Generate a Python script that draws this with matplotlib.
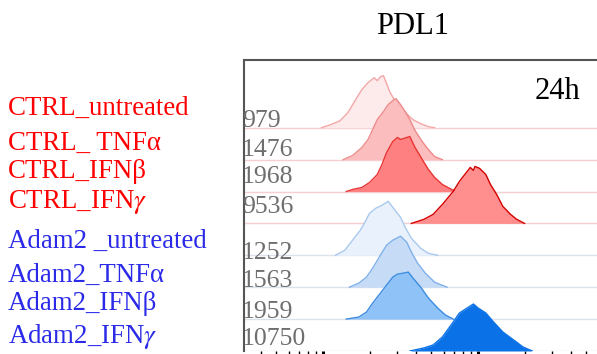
import numpy as np
import matplotlib
matplotlib.use("Agg")
import matplotlib.pyplot as plt

plt.rcParams["font.family"] = ["Liberation Serif", "DejaVu Serif"]
plt.rcParams["mathtext.fontset"] = "stix"

# ---- data -------------------------------------------------------------
samples = [
    "CTRL_untreated", "CTRL_ TNF\u03b1", "CTRL_IFN\u03b2", r"CTRL_IFN$\gamma$",
    "Adam2 _untreated", "Adam2_TNF\u03b1", "Adam2_IFN\u03b2", r"Adam2_IFN$\gamma$",
]
mfi = ["979", "1476", "1968", "9536", "1252", "1563", "1959", "10750"]

# log10 PDL1 intensity / histogram counts for each sample
ctrl_untreated_x = [2.99, 3.05, 3.11, 3.16, 3.21, 3.25, 3.29, 3.33, 3.35, 3.37, 3.39, 3.40, 3.43, 3.46, 3.50, 3.54, 3.58, 3.63, 3.68, 3.72]
ctrl_untreated_y = [0, 3, 7, 15, 28, 38, 45, 50, 47, 51, 52, 48, 36, 28, 20, 14, 8, 4, 1, 0]
ctrl_tnfa_x = [3.13, 3.19, 3.25, 3.29, 3.32, 3.35, 3.39, 3.42, 3.45, 3.47, 3.50, 3.53, 3.56, 3.59, 3.64, 3.68, 3.72, 3.77]
ctrl_tnfa_y = [0, 4, 12, 20, 30, 40, 48, 55, 59, 61, 55, 48, 40, 30, 18, 10, 3, 0]
ctrl_ifnb_x = [3.15, 3.19, 3.25, 3.30, 3.35, 3.38, 3.41, 3.45, 3.48, 3.50, 3.54, 3.56, 3.59, 3.64, 3.68, 3.72, 3.77, 3.83, 3.87]
ctrl_ifnb_y = [0, 2, 4, 9, 17, 27, 39, 50, 54, 52, 54, 55, 45, 32, 22, 14, 7, 2, 0]
ctrl_ifng_x = [3.57, 3.65, 3.71, 3.77, 3.84, 3.88, 3.93, 3.95, 3.97, 3.98, 4.01, 4.05, 4.08, 4.12, 4.16, 4.21, 4.25, 4.30]
ctrl_ifng_y = [0, 4, 9, 19, 32, 42, 52, 56, 53, 57, 55, 49, 39, 29, 17, 9, 4, 0]
adam2_untreated_x = [3.08, 3.14, 3.19, 3.24, 3.27, 3.30, 3.34, 3.38, 3.42, 3.45, 3.50, 3.53, 3.57, 3.63, 3.68, 3.74]
adam2_untreated_y = [0, 5, 15, 25, 33, 42, 47, 50, 54, 48, 38, 28, 17, 7, 2, 0]
adam2_tnfa_x = [3.17, 3.23, 3.28, 3.32, 3.37, 3.41, 3.45, 3.50, 3.54, 3.57, 3.61, 3.66, 3.72, 3.80]
adam2_tnfa_y = [0, 4, 10, 19, 32, 42, 47, 51, 45, 35, 24, 14, 5, 0]
adam2_ifnb_x = [3.15, 3.23, 3.28, 3.32, 3.37, 3.41, 3.45, 3.48, 3.52, 3.55, 3.58, 3.63, 3.68, 3.74, 3.79, 3.84]
adam2_ifnb_y = [0, 2, 7, 16, 26, 34, 42, 45, 46, 47, 41, 32, 21, 11, 4, 0]
adam2_ifng_x = [3.56, 3.65, 3.71, 3.77, 3.84, 3.88, 3.93, 3.97, 4.00, 4.05, 4.10, 4.16, 4.23, 4.29, 4.35]
adam2_ifng_y = [0, 3, 6, 14, 29, 38, 43, 47, 43, 38, 29, 19, 11, 4, 0]

hist_x = [ctrl_untreated_x, ctrl_tnfa_x, ctrl_ifnb_x, ctrl_ifng_x,
          adam2_untreated_x, adam2_tnfa_x, adam2_ifnb_x, adam2_ifng_x]
hist_y = [ctrl_untreated_y, ctrl_tnfa_y, ctrl_ifnb_y, ctrl_ifng_y,
          adam2_untreated_y, adam2_tnfa_y, adam2_ifnb_y, adam2_ifng_y]

# ---- styling ----------------------------------------------------------
fills = ["#fdeaea", "#fbbdbd", "#ff8080", "#ff8e8e",
         "#e8f1fc", "#c6dcf6", "#8fc2f7", "#0a72e6"]
edges = ["#f4a6a6", "#ee8a8a", "#e83434", "#d40000",
         "#a9c9ef", "#80b0ea", "#3d8ce2", "#0a72e6"]
row_lines = ["#f7cfcf"] * 4 + ["#dbe2ec"] * 4
label_colors = ["#ff0000"] * 4 + ["#2a2ae8"] * 4

spacing = 31.9
n = len(samples)

W, H, DPI = 597, 354, 100
fig = plt.figure(figsize=(W / DPI, H / DPI), dpi=DPI)
ax_left, ax_right, ax_top, ax_bot = 244, 598, 60, 351
ax = fig.add_axes([ax_left / W, (H - ax_bot) / H,
                   (ax_right - ax_left) / W, (ax_bot - ax_top) / H])

ax.set_xscale("log")
ax.set_xlim(10 ** 2.49, 10 ** 4.774)
ax.set_ylim(0, (ax_bot - ax_top))

for i in range(n):
    base = (n - 1 - i) * spacing
    ax.axhline(base, color=row_lines[i], lw=1.0, zorder=1 + 2 * i)
    xs = 10 ** np.asarray(hist_x[i], dtype=float)
    ys = base + np.asarray(hist_y[i], dtype=float)
    ax.fill_between(xs, base, ys, color=fills[i], lw=0, zorder=2 + 2 * i)
    ax.plot(xs, ys, color=edges[i], lw=1.0, zorder=2 + 2 * i + 0.5)

for side in ("right", "bottom"):
    ax.spines[side].set_visible(False)
for side in ("left", "top"):
    ax.spines[side].set_color("#555555")
    ax.spines[side].set_linewidth(1.5)
    ax.spines[side].set_zorder(30)

ax.set_yticks([])
ax.tick_params(axis="x", which="major", direction="out", length=8, width=2.2,
               color="black", labelbottom=False)
ax.tick_params(axis="x", which="minor", direction="out", length=6, width=1.0,
               color="black", labelbottom=False)

# MFI values inside the panel (baseline positions in pixels)
mfi_base_px = [127, 156, 183, 213, 259, 287, 318, 345]
for txt, yb in zip(mfi, mfi_base_px):
    fig.text(242 / W, (H - yb) / H, txt, fontsize=18.5, color="#6e6e6e",
             ha="left", va="baseline", zorder=40)

# sample names to the left of the panel
label_base_px = [115, 150, 178, 208, 248, 282, 310, 343]
for txt, yb, c in zip(samples, label_base_px, label_colors):
    fig.text(8 / W, (H - yb) / H, txt, fontsize=19.4, color=c,
             ha="left", va="baseline")

fig.text(413 / W, (H - 34) / H, "PDL1", fontsize=22, color="black",
         ha="center", va="baseline")
fig.text(580 / W, (H - 99) / H, "24h", fontsize=22, color="black",
         ha="right", va="baseline")

fig.savefig("out.png", dpi=DPI)
